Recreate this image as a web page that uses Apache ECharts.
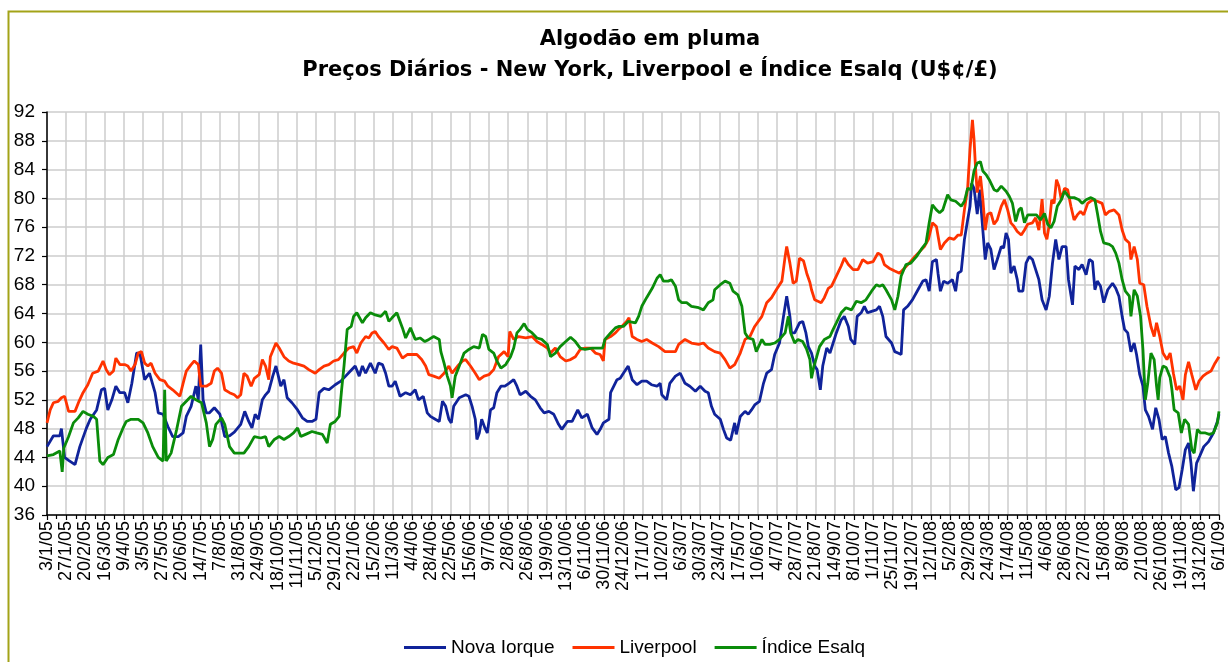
<!DOCTYPE html>
<html>
<head>
<meta charset="utf-8">
<title>Algodão em pluma</title>
<script src="https://cdn.jsdelivr.net/npm/echarts@6/dist/echarts.min.js"></script>
<style>
  html, body { margin: 0; padding: 0; background: #fff; }
  #chart { width: 1228px; height: 662px; }
</style>
</head>
<body>
<div id="chart"></div>
<script>
// dias contados a partir de 3/1/2005, valor em U$¢/£
var startDate = Date.UTC(2005, 0, 3);
var lastDay = 1464;
var tickDays = 24;
var yTicks = { min: 36, max: 92, step: 4 };

var nyData = [
  [0,45.5],[8,47],[16,47],[18,48],[22,44],[27,43.6],[35,43],[41,45.5],[49,48],[54,49.3],[62,50.6],[68,53.4],[72,53.6],[76,50.6],[81,52],[86,53.9],[91,53],[97,53],[101,51.6],[106,54.3],[112,58.5],[116,58.5],[122,54.8],[128,55.7],[135,53],[139,50.2],[145,50],[151,48.3],[157,46.9],[164,46.9],[170,47.4],[174,49.7],[180,51.1],[186,53.9],[189,52],[192,59.7],[195,52],[199,50.2],[203,50.2],[209,50.9],[216,50],[222,46.9],[228,47],[234,47.5],
  [242,48.6],[247,50.4],[252,49],[256,48.1],[260,50],[264,49.3],[269,52],[273,52.7],[277,53.2],[282,55.3],[286,56.7],[289,55.3],[292,53.9],[296,54.8],[300,52.3],[306,51.6],[313,50.6],[319,49.5],[325,49],[331,49],[336,49.3],[340,53],[346,53.6],[352,53.4],[360,54.1],[367,54.6],[373,55.3],[379,56],[385,56.7],[390,55.3],[394,56.7],[398,55.7],[404,57.1],[410,55.7],[414,57.1],[419,56.9],[423,55.7],[427,53.9],[431,53.9],[435,54.6],[441,52.5],[448,53],[454,52.7],[460,53.4],[464,52],[470,52.5],[475,50.2],
  [479,49.7],[485,49.3],[490,49],[494,51.8],[498,51.1],[502,49.3],[505,48.8],[508,51.1],[515,52.3],[523,52.7],[527,52.5],[531,51.1],[535,49.3],[537,46.5],[540,47.4],[543,49.3],[547,48.1],[550,47.4],[554,50.6],[558,50.9],[562,53],[567,53.9],[572,53.9],[577,54.3],[583,54.8],[587,53.9],[591,52.7],[598,53.2],[604,52.5],[610,52],[616,50.9],[621,50.2],[627,50.4],[633,50],[639,48.6],[643,47.9],[650,49],[656,49],[663,50.6],[668,49.5],[675,50],[681,48.1],[687,47.2],[691,47.9],[695,48.8],[702,49.3],[704,53],[708,53.9],[712,54.8],
  [716,55],[720,55.7],[726,56.7],[731,54.8],[737,54.1],[743,54.6],[749,54.6],[755,54.1],[762,53.9],[766,54.3],[768,52.7],[774,52],[778,54.3],[785,55.3],[791,55.7],[797,54.3],[803,53.9],[810,53.2],[816,53.9],[822,53.2],[826,53],[830,51.1],[834,50],[841,49.3],[845,47.9],[849,46.7],[854,46.4],[859,48.8],[861,47.2],[866,49.7],[872,50.4],[876,50],[880,50.6],[884,51.3],[890,51.8],[895,54.3],[899,55.7],[905,56.2],[909,58.3],[915,59.9],[920,63.6],[924,66.4],[928,63.6],[930,61.3],[934,61.3],[940,62.7],[944,62.9],[948,61.3],
  [951,59.4],[955,58.5],[959,56.7],[962,56.2],[966,53.4],[969,56.7],[974,59.2],[978,58.5],[982,59.9],[986,61.3],[992,63.1],[996,63.6],[1001,62.2],[1004,60.4],[1009,59.7],[1012,63.6],[1017,64.1],[1021,65],[1025,64.1],[1030,64.3],[1036,64.5],[1040,65],[1044,63.6],[1048,60.8],[1055,59.9],[1059,58.7],[1063,58.5],[1067,58.3],[1070,64.5],[1075,65],[1081,65.9],[1088,67.3],[1094,68.5],[1098,68.7],[1102,67.1],[1106,71.2],[1111,71.5],[1113,69.6],[1116,67.1],[1120,68.5],[1125,68.2],[1131,68.7],[1135,67.1],[1138,69.6],[1142,69.9],[1146,74.3],[1150,77],[1153,78.9],[1155,82.1],[1158,81.4],[1162,77.8],[1165,81.2],[1169,75.6],[1172,71.5],[1175,73.8],[1179,72.9],[1183,70.1],[1187,71.5],
  [1192,73.3],[1195,73.1],[1198,75.2],[1201,74.3],[1204,69.6],[1208,70.6],[1212,68.7],[1214,67.1],[1219,67.1],[1223,71],[1227,71.9],[1231,71.5],[1235,70.1],[1239,68.7],[1243,65.9],[1248,64.5],[1252,66.4],[1256,71],[1260,74.3],[1264,71.5],[1268,73.3],[1273,73.3],[1276,68.7],[1281,65.2],[1284,70.6],[1289,70.1],[1293,70.8],[1298,69.4],[1302,71.5],[1306,71.2],[1309,67.3],[1312,68.5],[1316,67.8],[1320,65.5],[1325,67.3],[1331,68.2],[1335,67.5],[1339,66.4],[1343,63.6],[1346,61.8],[1350,61.3],[1354,58.7],[1358,59.9],[1361,58.3],[1365,55.5],[1369,53.9],[1372,50.6],[1376,49.7],[1381,47.9],[1385,50.9],[1389,49.3],[1393,46.5],[1397,46.9],[1401,44.6],[1405,42.8],[1410,39.5],[1414,39.8],[1418,42.3],[1422,45.1],[1426,46],[1429,43.2],[1432,39.3],[1436,43.2],[1440,44.2],[1445,45.5],[1451,46.2],[1457,47.4],[1462,49],[1464,50]
];

var livData = [
  [0,48.8],[4,50.6],[8,51.6],[14,51.8],[18,52.3],[22,52.5],[27,50.4],[35,50.4],[40,51.8],[45,53],[51,54.1],[57,55.7],[64,56],[70,57.4],[74,56.2],[78,55.5],[83,56],[86,57.8],[91,56.9],[97,56.9],[101,56.7],[105,56],[110,56.9],[114,58.5],[118,58.7],[122,57.1],[126,56.7],[130,57.1],[135,55.7],[141,54.8],[147,54.6],[151,53.9],[157,53.4],[166,52.5],[170,54.3],[174,56],[180,56.9],[184,57.4],[189,56.9],[192,53.9],[199,53.9],[205,54.3],[209,56],[213,56.4],[218,55.7],[222,53.4],[228,53],[234,52.7],
  [238,52.3],[242,52.7],[246,55.7],[250,55.3],[255,53.9],[259,55],[265,55.5],[269,57.6],[273,56.7],[277,54.8],[279,58],[286,59.9],[290,59.2],[296,58],[302,57.4],[308,57.1],[315,56.9],[321,56.7],[327,56.2],[335,55.7],[340,56.2],[346,56.7],[352,56.9],[358,57.4],[364,57.6],[371,58.5],[377,59.2],[383,59.4],[387,58.5],[392,59.9],[398,60.8],[402,60.6],[406,61.3],[410,61.5],[414,60.8],[421,59.9],[427,59],[431,59.4],[437,59.2],[444,57.8],[450,58.3],[456,58.3],[462,58.3],[468,57.6],[473,56.7],
  [477,55.5],[483,55.3],[490,55],[496,55.7],[502,56.7],[506,55.7],[513,56.7],[519,57.4],[523,57.6],[529,56.7],[535,55.7],[540,54.8],[546,55.3],[552,55.5],[558,56.2],[564,58],[571,58.7],[576,58],[578,61.5],[583,60.4],[589,60.8],[598,60.6],[606,60.8],[612,60.1],[618,59.7],[625,59.2],[629,58.5],[635,59.2],[641,58],[648,57.4],[654,57.6],[660,58],[666,59],[672,59.2],[679,59.2],[685,58.5],[691,58.3],[695,57.4],[697,60.4],[704,60.8],[710,61.3],[714,61.8],
  [718,62.2],[724,62.9],[727,63.4],[731,60.8],[737,60.4],[743,60.1],[749,60.4],[756,59.9],[764,59.4],[772,58.7],[778,58.7],[785,58.7],[789,59.7],[797,60.4],[805,59.9],[814,59.7],[820,59.9],[826,59.2],[834,58.7],[841,58.5],[847,57.6],[853,56.4],[859,56.9],[866,58.5],[872,60.4],[878,60.8],[884,62.2],[893,63.6],[899,65.5],[905,66.2],[911,67.3],[918,68.5],[922,71.9],[924,73.3],[928,71],[932,68.2],[936,68.5],[940,71.7],[945,71.3],[949,69.6],
  [953,68.3],[955,67.3],[959,65.9],[963,65.7],[967,65.5],[971,66.2],[976,67.5],[980,67.8],[986,69.2],[992,70.6],[996,71.7],[1001,70.8],[1007,70.1],[1013,70.1],[1019,71.5],[1025,71],[1032,71.2],[1038,72.4],[1042,72.1],[1046,70.8],[1052,70.3],[1059,69.9],[1065,69.6],[1071,70.3],[1077,71],[1084,71.9],[1090,72.6],[1096,73.3],[1101,74.3],[1106,76.6],[1111,76.1],[1116,72.9],[1121,73.8],[1127,74.5],[1133,74.3],[1138,74.9],[1142,74.9],[1146,78.4],[1150,81.4],[1153,86.8],[1156,90.9],[1158,88.2],[1160,84],[1162,80.8],[1166,83.1],[1169,79.9],[1172,75.6],[1175,77.8],[1179,78],[1183,76.4],[1187,77],
  [1192,78.9],[1196,79.8],[1200,78.4],[1204,76.6],[1208,76.1],[1212,75.4],[1217,74.9],[1221,75.6],[1225,76.4],[1231,76.6],[1235,77.3],[1239,75.6],[1243,79.9],[1246,75.2],[1249,74.3],[1252,76.4],[1255,79.8],[1258,79.3],[1261,82.6],[1264,81.7],[1267,79.8],[1271,81.4],[1275,81.2],[1279,78.9],[1283,77],[1287,77.7],[1291,78.2],[1295,77.7],[1300,79.3],[1306,79.8],[1312,79.6],[1318,79.3],[1322,77.7],[1327,78.2],[1333,78.4],[1339,77.7],[1343,75.6],[1347,74.3],[1352,73.8],[1354,71.5],[1358,73.3],[1362,71.5],[1365,68.2],[1370,68],[1374,65],[1379,62.2],[1383,60.8],[1386,62.7],[1390,60.8],[1394,58.5],[1399,57.6],[1403,58.5],[1407,55.7],[1411,53.4],[1415,53.9],[1419,52],[1422,55.5],[1426,57.3],[1430,55.5],[1435,53.4],[1439,54.6],[1444,55.3],[1449,55.7],[1454,56],[1459,57.1],[1464,58]
];

var esalqData = [
  [0,44.2],[8,44.4],[16,44.9],[19,42],[21,45.3],[27,46.9],[33,48.8],[39,49.5],[45,50.4],[51,50],[58,49.7],[62,49.3],[66,43.5],[70,43],[76,44],[83,44.4],[89,46.5],[95,48.1],[99,49],[105,49.3],[114,49.3],[120,48.8],[126,47.4],[132,45.5],[139,44],[145,43.5],[147,53.4],[149,43.5],[155,44.6],[162,47.9],[168,51.1],[174,51.8],[180,52.5],[186,52],[193,51.6],[199,48.8],[203,45.5],[207,46.5],[211,48.6],[218,49.5],[222,48.6],[228,45.5],[234,44.6],
  [240,44.6],[246,44.6],[252,45.5],[259,46.9],[267,46.7],[273,46.9],[277,45.5],[284,46.5],[290,46.9],[296,46.5],[302,46.9],[308,47.4],[313,48.1],[317,46.9],[323,47.2],[331,47.6],[337,47.4],[344,47.2],[350,46],[354,48.6],[360,49],[365,49.7],[368,53.4],[371,56.7],[375,61.8],[380,62.2],[383,63.6],[387,64.1],[394,62.7],[398,63.4],[404,64.1],[410,63.8],[417,63.6],[423,64.3],[427,62.9],[431,63.4],[437,64.1],[444,62],[448,60.6],[454,62],[460,60.4],[466,60.6],[472,60.1],[477,60.4],
  [483,60.8],[490,60.4],[492,58.7],[496,57.1],[500,55.3],[504,53.9],[506,52.3],[510,55.3],[515,56.7],[521,58.5],[527,59],[533,59.4],[540,59.2],[544,61.1],[548,60.8],[552,59],[558,58.5],[562,57.4],[567,56.4],[573,56.9],[579,58],[583,59.2],[587,61.3],[591,61.8],[596,62.6],[600,61.8],[606,61.3],[612,60.6],[618,60.4],[625,59.7],[629,58],[635,58.5],[641,59.4],[648,60.1],[654,60.7],[660,60.1],[666,59.2],[672,59],[681,59.2],[689,59.2],[694,59.2],[697,60.4],[704,61.3],[710,62],[714,62.2],
  [720,62.2],[726,62.9],[735,62.7],[739,63.6],[743,65],[749,66.2],[756,67.5],[762,68.9],[766,69.4],[770,68.5],[776,68.5],[780,68.7],[785,67.8],[789,65.9],[793,65.5],[799,65.5],[805,65],[814,64.8],[820,64.5],[826,65.5],[832,65.9],[834,67.3],[841,68],[847,68.5],[853,68.2],[857,67.1],[863,66.6],[868,65],[872,61.3],[876,60.6],[882,60.4],[886,58.7],[893,60.4],[897,59.7],[903,59.7],[909,59.9],[915,60.4],[922,61.3],[926,63.6],[929,61.3],[934,59.9],[938,60.4],
  [944,60.1],[949,59],[953,57.6],[955,55],[958,56.7],[961,57.8],[965,59.4],[971,60.4],[978,60.8],[982,61.8],[986,62.7],[992,64.1],[998,64.8],[1005,64.5],[1011,65.7],[1017,65.5],[1023,65.9],[1030,67.1],[1036,68],[1040,67.8],[1044,68],[1048,67.3],[1055,65.9],[1059,64.5],[1063,66.4],[1067,69.2],[1073,70.8],[1079,71],[1086,71.9],[1092,72.9],[1098,73.8],[1102,76.6],[1106,79.1],[1111,78.4],[1115,78],[1119,78.4],[1125,80.5],[1129,79.8],[1135,79.6],[1142,78.9],[1146,79.6],[1150,81.4],[1154,81.2],[1158,83.8],[1162,84.9],[1166,85.1],[1169,83.8],[1173,83.3],[1177,82.6],[1183,81.2],[1187,81],
  [1192,81.7],[1198,81],[1202,80.3],[1206,79.3],[1210,76.8],[1214,78.4],[1217,78.7],[1221,76.6],[1225,77.7],[1231,77.7],[1236,77.7],[1241,77],[1246,77.9],[1250,76.4],[1254,75.9],[1258,76.8],[1262,78.9],[1267,79.8],[1271,81],[1277,80.1],[1283,80.1],[1289,79.8],[1293,79.3],[1298,79.8],[1304,80.1],[1309,79.8],[1312,78],[1316,75.4],[1320,73.8],[1327,73.6],[1331,73.3],[1335,72.4],[1339,71],[1343,68.7],[1347,67.1],[1352,66.4],[1354,63.6],[1358,67.3],[1362,66.4],[1366,63.6],[1369,59],[1372,52],[1375,54.3],[1379,58.5],[1383,57.6],[1386,53.9],[1388,52],[1390,55.1],[1394,56.7],[1398,56.5],[1403,55.1],[1405,53.6],[1408,50.6],[1413,50.2],[1417,47.4],[1421,49.3],[1426,48.6],[1430,45.1],[1433,44.6],[1437,47.9],[1441,47.4],[1447,47.4],[1452,47.2],[1457,47.4],[1462,48.8],[1464,50.4]
];

var seriesNames = ["Nova Iorque", "Liverpool", "Índice Esalq"];
var seriesColors = ["#10239a", "#ff3300", "#0a8c0a"];

var font = "Liberation Sans, Arial, sans-serif";
var titleFont = "DejaVu Sans, Liberation Sans, sans-serif";

function dayLabel(v) {
  if (v % tickDays !== 0) return "";
  var d = new Date(startDate + v * 86400000);
  return d.getUTCDate() + "/" + (d.getUTCMonth() + 1) + "/" + String(d.getUTCFullYear()).slice(2);
}

var myChart = echarts.init(document.getElementById("chart"));

function lineSeries(i, data) {
  return {
    name: seriesNames[i],
    type: "line",
    data: data,
    showSymbol: false,
    symbol: "none",
    lineStyle: {
      width: 2.8,
      color: seriesColors[i],
    },
    itemStyle: {
      color: seriesColors[i],
    },
  };
}

var option = {
  animation: false,
  backgroundColor: "#ffffff",
  graphic: [
    {
      type: "rect",
      left: 6,
      top: 9,
      shape: { width: 1400, height: 800 },
      style: { fill: "none", stroke: "#a3a318", lineWidth: 2 },
      silent: true,
    },
  ],
  title: {
    text: "Algodão em pluma\nPreços Diários - New York, Liverpool e Índice Esalq (U$¢/£)",
    left: 645,
    textAlign: "center",
    top: 19,
    textStyle: {
      fontFamily: titleFont,
      fontSize: 21,
      fontWeight: "bold",
      color: "#000",
      lineHeight: 31,
    },
  },
  legend: {
    top: 633,
    left: 399,
    icon: "rect",
    itemWidth: 42,
    itemHeight: 3,
    itemGap: 18,
    data: seriesNames,
    textStyle: {
      fontFamily: font,
      fontSize: 19,
      color: "#000",
    },
  },
  grid: {
    left: 47,
    right: 6,
    top: 112,
    bottom: 147,
  },
  xAxis: {
    type: "value",
    min: 0,
    max: lastDay,
    interval: tickDays,
    axisLine: {
      lineStyle: { color: "#000", width: 1.5 },
    },
    axisTick: {
      length: 5,
      lineStyle: { color: "#000", width: 1.2 },
    },
    minorTick: {
      show: true,
      splitNumber: 2,
      length: 4,
      lineStyle: { color: "#000", width: 1.2 },
    },
    axisLabel: {
      rotate: 90,
      margin: 6,
      fontFamily: font,
      fontSize: 18,
      color: "#000",
      formatter: dayLabel,
    },
    splitLine: {
      show: true,
      lineStyle: { color: "#cccccc", width: 1.5 },
    },
  },
  yAxis: {
    type: "value",
    min: yTicks.min,
    max: yTicks.max,
    interval: yTicks.step,
    axisLine: {
      show: true,
      lineStyle: { color: "#000", width: 1.5 },
    },
    axisTick: {
      show: true,
      length: 5,
      lineStyle: { color: "#000", width: 1.2 },
    },
    axisLabel: {
      margin: 12,
      fontFamily: font,
      fontSize: 19,
      color: "#000",
    },
    splitLine: {
      lineStyle: { color: "#cccccc", width: 1.5 },
    },
  },
  series: [
    lineSeries(0, nyData),
    lineSeries(1, livData),
    lineSeries(2, esalqData),
  ],
};

myChart.setOption(option);
</script>
</body>
</html>
